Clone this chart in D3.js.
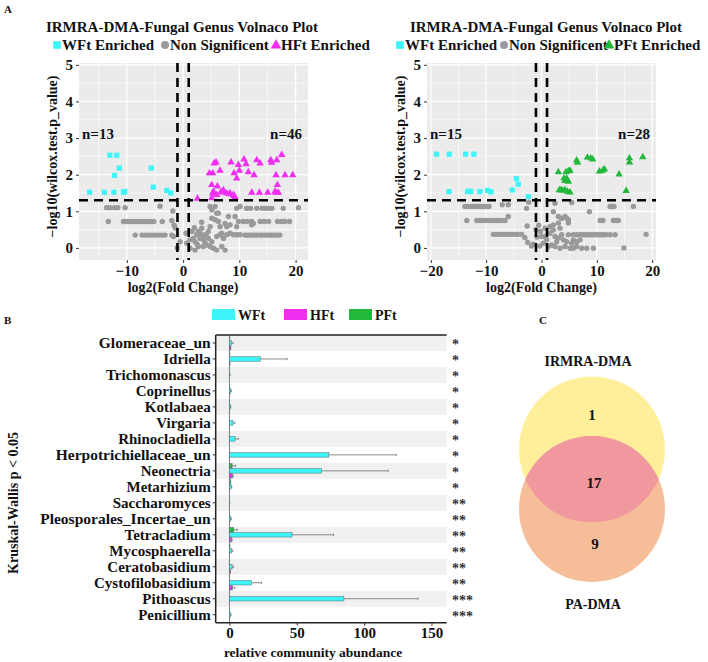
<!DOCTYPE html>
<html lang="en">
<head>
<meta charset="UTF-8" />
<title>Fungal genus volcano plots, abundance bars and Venn</title>
<style>
  body { margin: 0; background: #fff; }
  svg text { font-family: "Liberation Serif", "Times New Roman", serif; font-weight: bold; fill: #111; }
  .axis text { font-size: 15px; }
  .axis line { stroke: #333; }
  .axis path { display: none; }
</style>
</head>
<body>
<svg width="708" height="662"></svg>
<script src="https://d3js.org/d3.v7.min.js"></script>
<script>
// ---------- panel A data: [log2 fold change, -log10 p] ----------
const leftWFt = [[-13.0,2.53],[-11.8,2.53],[-11.35,2.18],[-12.2,1.98],[-5.65,2.18],[-5.3,1.66],[-16.6,1.52],
  [-14.0,1.52],[-12.3,1.52],[-10.6,1.52],[-10.35,1.54],[-2.9,1.57],[-2.2,1.50]];
const leftHFt = [[2.55,1.35],[4.68,2.04],[5.27,2.04],[5.51,2.31],[5.86,2.34],[6.57,2.11],[5.09,1.72],[6.1,1.68],
  [5.27,1.49],[5.98,1.45],[7.04,1.54],[7.16,1.58],[8.23,1.47],[8.35,1.49],[9.06,1.42],[9.24,1.38],[8.52,2.34],
  [9.83,2.27],[9.06,2.04],[9.53,1.90],[10.0,2.11],[10.83,2.42],[11.19,2.29],[11.6,2.07],[12.61,1.99],[13.09,2.40],
  [13.68,2.31],[15.57,2.40],[15.75,2.33],[16.64,2.40],[17.53,2.54],[16.52,1.99],[18.12,1.99],[19.48,1.99],
  [12.2,1.51],[13.56,1.51],[15.04,1.51],[16.34,1.54],[16.76,1.72],[16.93,1.51],[16.5,1.51],[5.39,1.54],
  [8.94,1.45],[6.69,1.52],[5.1,1.36],[7.75,1.49]];
const leftNS = [[-13.6,1.1],[-13.0,1.1],[-12.2,1.1],[-11.6,1.1],[-10.3,1.1],[-4.1,1.14],
  [-13.3,0.72],[-10.6,0.72],[-10.2,0.72],[-9.8,0.72],[-9.3,0.72],[-8.9,0.72],[-8.4,0.72],[-7.9,0.72],[-7.5,0.72],
  [-7.0,0.72],[-6.6,0.72],[-6.1,0.72],[-5.7,0.72],[-5.2,0.72],[-3.7,0.72],[-2.0,0.75],[-1.6,0.62],[-1.4,0.55],
  [-8.5,0.35],[-7.3,0.35],[-6.7,0.35],[-6.2,0.35],[-5.6,0.35],[-5.0,0.35],[-4.4,0.35],[-3.8,0.35],[-3.2,0.35],[-2.0,0.35],
  [-1.83,1.01],[-1.7,0.31],[-0.53,0.17],[0.65,0.13],[1.24,0.22],[1.83,0.26],[2.13,0.17],[2.43,0.36],[2.72,0.45],
  [3.02,0.40],[3.32,0.54],[3.02,0.26],[3.61,0.22],[3.91,0.13],[4.2,0.31],[4.5,0.45],[4.8,0.58],[5.1,0.81],[5.1,1.04],
  [4.8,1.13],[5.69,1.13],[5.98,0.95],[6.28,0.72],[6.57,0.58],[6.87,0.40],[7.17,0.26],[7.46,-0.06],[6.87,0.04],
  [5.98,-0.06],[5.39,-0.01],[4.8,0.04],[4.2,0.08],[3.61,0.04],[2.72,0.04],[2.13,-0.06],[1.24,-0.01],[3.32,0.31],
  [3.91,0.36],[4.5,0.26],[5.1,0.17],[5.98,0.31],[6.57,0.36],[7.76,0.36],[8.35,0.40],[8.94,0.36],[9.53,0.36],
  [10.12,0.36],[8.35,0.63],[9.83,0.72],[9.24,0.86],[9.53,1.08],[10.12,1.13],[7.46,0.67],[7.76,0.58],[6.28,0.95],
  [5.69,0.77],[8.05,0.86],[9.53,0.58],[11.31,1.08],[12.49,0.67],[13.08,1.08],[-1.06,0.0],[0.5,0.4],[2.0,0.55],
  [3.3,0.7],[2.5,0.1],[1.6,0.45],
  [11.3,1.08],[12.0,1.08],[14.0,1.08],[14.6,1.08],[15.2,1.08],[15.8,1.08],[17.8,1.08],[20.5,1.1],
  [10.7,0.72],[11.4,0.72],[12.2,0.72],[13.7,0.72],[14.4,0.72],[15.2,0.72],[16.8,0.72],[17.5,0.72],[18.1,0.72],
  [18.9,0.72],[12.2,0.63],
  [11.0,0.35],[11.5,0.35],[11.9,0.35],[12.3,0.35],[12.8,0.35],[13.2,0.35],[13.7,0.35],[14.1,0.35],[14.6,0.35],
  [15.1,0.35],[15.5,0.35],[15.9,0.35],[16.4,0.35],[16.8,0.35],[17.2,0.35]];

const rightWFt = [[-18.97,2.56],[-16.68,2.56],[-13.72,2.56],[-12.22,2.56],[-16.74,1.54],[-13.36,1.54],[-12.82,1.54],
  [-13.0,1.55],[-11.13,1.54],[-9.74,1.57],[-9.14,1.53],[-5.28,1.58],[-4.56,1.89],[-4.2,1.74],[-2.39,1.40]];
const rightPFt = [[3.05,2.07],[4.43,2.07],[4.86,2.10],[5.16,2.11],[4.07,1.90],[4.55,1.90],[4.86,1.81],[4.25,1.83],
  [3.23,1.58],[3.83,1.57],[4.25,1.58],[4.68,1.54],[5.16,1.52],[6.49,2.33],[6.36,2.39],[8.3,2.47],[8.9,2.45],
  [9.26,2.42],[10.47,2.09],[11.07,2.11],[11.37,2.15],[14.03,2.01],[15.3,1.56],[15.9,2.45],[15.9,2.34],
  [18.31,2.48],[3.53,1.58],[4.55,1.86]];
const rightNS = [[-13.85,1.13],[-13.36,1.13],[-12.89,1.13],[-12.4,1.13],[-11.9,1.13],[-11.43,1.13],[-10.95,1.13],
  [-10.46,1.13],[-9.98,1.13],[-9.5,1.13],[-7.1,1.18],[-6.0,1.18],[-2.7,1.08],[-2.3,1.25],
  [-13.5,0.75],[-11.7,0.75],[-11.2,0.75],[-10.7,0.75],[-10.2,0.75],[-9.7,0.75],[-9.2,0.75],[-8.7,0.75],[-8.2,0.75],
  [-7.7,0.75],[-7.2,0.75],[-6.6,0.75],[-6.0,0.86],[-2.6,0.6],
  [-8.7,0.37],[-8.2,0.37],[-7.7,0.37],[-7.2,0.37],[-6.7,0.37],[-6.2,0.37],[-5.7,0.37],[-5.2,0.37],[-4.7,0.37],
  [-4.3,0.37],[-3.6,0.37],[-3.0,0.28],[-2.5,0.15],[-1.8,0.05],
  [2.44,1.22],[5.46,1.24],[8.66,0.99],[12.4,1.13],[12.9,1.13],[13.1,1.13],[16.6,1.13],[10.6,0.75],[11.1,0.75],
  [13.0,0.75],[13.5,0.75],[13.9,0.75],[18.9,0.37],[14.9,0.0],
  [5.76,0.36],[6.36,0.36],[6.85,0.36],[7.33,0.36],[7.81,0.36],[8.3,0.36],[8.78,0.36],[9.26,0.36],[9.74,0.36],
  [10.23,0.36],[10.71,0.36],[11.19,0.36],[11.67,0.36],[12.4,0.36],[13.3,0.36],
  [2.14,0.99],[3.05,0.86],[3.65,0.81],[4.25,0.86],[4.55,0.81],[4.86,0.77],[4.86,0.68],[3.05,0.68],[3.35,0.54],
  [2.14,0.49],[1.54,0.40],[0.63,0.31],[0.93,0.22],[0.33,0.13],[1.24,0.04],[2.44,0.04],[3.35,-0.01],[4.25,0.04],
  [5.16,-0.01],[5.76,-0.01],[6.36,0.04],[7.27,-0.01],[8.18,-0.01],[9.38,-0.01],[3.05,0.27],[3.95,0.22],[4.86,0.36],
  [2.14,0.63],[1.54,0.58],[0.63,0.54],[5.76,0.22],[6.36,0.17],[6.97,0.22],[3.65,0.36],[2.74,0.17],[1.84,0.08],
  [4.55,0.17],[5.46,0.13],[2.44,0.31],[0.03,0.31],
  [-1.5,0.1],[-0.8,0.3],[-0.3,0.05],[-1.0,0.5],[-0.5,0.62],[-0.2,0.45]];

const yTicksA = [0, 1, 2, 3, 4, 5];

// ---------- panel B data ----------
const genera = ["Glomeraceae_un","Idriella","Trichomonascus","Coprinellus","Kotlabaea","Virgaria","Rhinocladiella",
  "Herpotrichiellaceae_un","Neonectria","Metarhizium","Saccharomyces","Pleosporales_Incertae_un","Tetracladium",
  "Mycosphaerella","Ceratobasidium","Cystofilobasidium","Pithoascus","Penicillium"];
const wftMean = [1.6, 23, 0.3, 1.0, 0.7, 2.6, 4.2, 73.8, 68.3, 1.2, 0.2, 1.0, 46.5, 1.7, 2.0, 16.2, 85, 0.8];
const wftSd   = [1.2, 19.8, 0.1, 0.5, 0.3, 1.5, 2.3, 50, 49.5, 0.5, 0.1, 0.4, 30.7, 0.8, 1.0, 7.5, 55, 0.4];
const hftMean = [0.8, 0.3, 0.1, 0.1, 0.1, 0.1, 0.1, 0.1, 2.2, 0.1, 0.1, 0.1, 1.5, 0.1, 0.5, 2.2, 0.1, 0.1];
const hftSd   = [0.3, 0.1, 0, 0, 0, 0, 0, 0, 0.6, 0, 0, 0, 0.5, 0, 0.2, 1.8, 0, 0];
const pftMean = [0.2, 0.2, 0.1, 0.1, 0.1, 0.1, 0.1, 0.1, 2.0, 0.7, 0.1, 0.1, 3.2, 0.3, 0.1, 0.1, 0.1, 0.1];
const pftSd   = [0.1, 0.1, 0, 0, 0, 0, 0, 0, 2.5, 0.3, 0, 0, 2.5, 0.1, 0, 0, 0, 0];
const signif  = ["*","*","*","*","*","*","*","*","*","*","**","**","**","**","**","**","***","***"];
const xTicksB = [0, 50, 100, 150];

// ---------- panel C data ----------
const vennSets = ["IRMRA-DMA", "PA-DMA"];
const vennCounts = { onlyA: 1, both: 17, onlyB: 9 };

const colors = { WFt: "#3DF4F8", HFt: "#F02EF0", PFt: "#23B83A", NS: "#9A9A9A" };

const svg = d3.select("svg");
svg.append("rect").attr("width", 708).attr("height", 662).attr("fill", "#fff");

// panel letters
svg.append("text").attr("x", 4).attr("y", 13).attr("font-size", 11).text("A");
svg.append("text").attr("x", 4).attr("y", 324).attr("font-size", 11).text("B");
svg.append("text").attr("x", 539).attr("y", 324).attr("font-size", 11).text("C");

function volcano(o) {
  const g = svg.append("g");
  const top = 63, bottom = 260;
  const x = d3.scaleLinear().domain(o.xDomain).range([o.left, o.right]);
  const y = d3.scaleLinear().domain([-0.33, 5.05]).range([bottom, top]);

  g.append("rect").attr("x", o.left).attr("y", top).attr("width", o.right - o.left)
    .attr("height", bottom - top).attr("fill", "#EBEBEB");

  const yMinor = [0.5, 1.5, 2.5, 3.5, 4.5];
  g.selectAll(".gxm").data(o.xMinor).join("line")
    .attr("x1", d => x(d)).attr("x2", d => x(d)).attr("y1", top).attr("y2", bottom)
    .attr("stroke", "#fff").attr("stroke-width", 0.6);
  g.selectAll(".gym").data(yMinor).join("line")
    .attr("x1", o.left).attr("x2", o.right).attr("y1", d => y(d)).attr("y2", d => y(d))
    .attr("stroke", "#fff").attr("stroke-width", 0.6);
  g.selectAll(".gx").data(o.xTicks).join("line")
    .attr("x1", d => x(d)).attr("x2", d => x(d)).attr("y1", top).attr("y2", bottom)
    .attr("stroke", "#fff").attr("stroke-width", 1.2);
  g.selectAll(".gy").data(yTicksA).join("line")
    .attr("x1", o.left).attr("x2", o.right).attr("y1", d => y(d)).attr("y2", d => y(d))
    .attr("stroke", "#fff").attr("stroke-width", 1.2);

  // points
  g.selectAll(".ns").data(o.ns).join("circle")
    .attr("cx", d => x(d[0])).attr("cy", d => y(d[1])).attr("r", 2.7).attr("fill", colors.NS);
  g.selectAll(".sq").data(o.wft).join("rect")
    .attr("x", d => x(d[0]) - 2.6).attr("y", d => y(d[1]) - 2.6).attr("width", 5.2).attr("height", 5.2)
    .attr("fill", colors.WFt);
  const tri = d3.symbol().type(d3.symbolTriangle).size(24);
  g.selectAll(".tri").data(o.up).join("path")
    .attr("d", tri).attr("transform", d => `translate(${x(d[0])},${y(d[1])})`)
    .attr("fill", o.upColor);

  // threshold lines
  [-1, 1].forEach(v => g.append("line")
    .attr("x1", x(v)).attr("x2", x(v)).attr("y1", top).attr("y2", bottom)
    .attr("stroke", "#000").attr("stroke-width", 2.6).attr("stroke-dasharray", "9,6"));
  g.append("line").attr("x1", o.left).attr("x2", o.right)
    .attr("y1", y(-Math.log10(0.05))).attr("y2", y(-Math.log10(0.05)))
    .attr("stroke", "#000").attr("stroke-width", 2.6).attr("stroke-dasharray", "9,6");

  // counts
  g.append("text").attr("x", o.left + 3).attr("y", 138.5).attr("font-size", 15).text("n=" + o.wft.length);
  g.append("text").attr("x", o.right - 6).attr("y", 138.5).attr("font-size", 15)
    .attr("text-anchor", "end").text("n=" + o.up.length);

  // axes
  g.append("g").attr("class", "axis").attr("transform", `translate(${o.left},0)`)
    .call(d3.axisLeft(y).tickValues(yTicksA).tickFormat(d3.format("d")).tickSize(3).tickPadding(3));
  g.append("g").attr("class", "axis").attr("transform", `translate(0,${bottom})`)
    .call(d3.axisBottom(x).tickValues(o.xTicks).tickSize(3).tickPadding(2));

  g.append("text").attr("transform", `translate(${o.left - 22},${(top + bottom) / 2 - 5}) rotate(-90)`)
    .attr("text-anchor", "middle").attr("font-size", 14).text("\u2212log10(wilcox.test.p_value)");
  g.append("text").attr("x", x(0)).attr("y", 292).attr("text-anchor", "middle")
    .attr("font-size", 14).text("log2(Fold Change)");

  // title and legend
  g.append("text").attr("x", o.titleX).attr("y", 32).attr("text-anchor", "middle")
    .attr("font-size", 15).text("IRMRA-DMA-Fungal Genus Volnaco Plot");
  const lg = g.append("g").attr("transform", `translate(0,45)`);
  lg.append("rect").attr("x", o.leg[0] - 3.8).attr("y", -3.8).attr("width", 7.6).attr("height", 7.6)
    .attr("fill", colors.WFt);
  lg.append("text").attr("x", o.leg[0] + 5).attr("y", 5).attr("font-size", 15).text("WFt Enriched");
  lg.append("circle").attr("cx", o.leg[1]).attr("cy", 0).attr("r", 4).attr("fill", colors.NS);
  lg.append("text").attr("x", o.leg[1] + 5).attr("y", 5).attr("font-size", 15).text("Non Significent");
  lg.append("path").attr("d", d3.symbol().type(d3.symbolTriangle).size(50))
    .attr("transform", `translate(${o.leg[2]},0.5)`).attr("fill", o.upColor);
  lg.append("text").attr("x", o.leg[2] + 5).attr("y", 5).attr("font-size", 15).text(o.upLabel);
}

volcano({
  left: 79, right: 308, xDomain: [-18.5, 22.2],
  xTicks: [-10, 0, 10, 20], xMinor: [-15, -5, 5, 15],
  ns: leftNS, wft: leftWFt, up: leftHFt, upColor: colors.HFt, upLabel: "HFt Enriched",
  titleX: 182, leg: [57, 165, 276]
});
volcano({
  left: 427, right: 656, xDomain: [-20.7, 20.7],
  xTicks: [-20, -10, 0, 10, 20], xMinor: [-15, -5, 5, 15],
  ns: rightNS, wft: rightWFt, up: rightPFt, upColor: colors.PFt, upLabel: "PFt Enriched",
  titleX: 546, leg: [400, 504, 609]
});

// ---------- panel B ----------
(function () {
  const g = svg.append("g");
  const left = 215.7, right = 446.7, top = 335, bottom = 622.7;
  const x = d3.scaleLinear().domain([-10.2, 161.3]).range([left, right]);
  const y = d3.scaleBand().domain(genera).range([top, bottom]);
  const groups = ["PFt", "WFt", "HFt"];
  const sub = d3.scaleBand().domain(groups).range([0, y.bandwidth()]).paddingInner(0.1).paddingOuter(0.15);

  g.selectAll(".stripe").data(genera.filter((d, i) => i % 2 === 0)).join("rect")
    .attr("x", left).attr("y", d => y(d)).attr("width", right - left).attr("height", y.bandwidth())
    .attr("fill", "#F0F0F0");

  g.append("line").attr("x1", x(0)).attr("x2", x(0)).attr("y1", top).attr("y2", bottom)
    .attr("stroke", "#9a9a9a").attr("stroke-width", 1);

  const rows = [];
  genera.forEach((name, i) => {
    rows.push({ name, grp: "PFt", m: pftMean[i], sd: pftSd[i] });
    rows.push({ name, grp: "WFt", m: wftMean[i], sd: wftSd[i] });
    rows.push({ name, grp: "HFt", m: hftMean[i], sd: hftSd[i] });
  });
  const ey = d => y(d.name) + sub(d.grp) + sub.bandwidth() / 2;
  g.selectAll(".err").data(rows.filter(d => d.sd > 0)).join("line")
    .attr("x1", d => x(d.m)).attr("x2", d => x(d.m + d.sd)).attr("y1", ey).attr("y2", ey)
    .attr("stroke", "#8a8a8a").attr("stroke-width", 1);
  g.selectAll(".cap").data(rows.filter(d => d.sd > 0)).join("line")
    .attr("x1", d => x(d.m + d.sd)).attr("x2", d => x(d.m + d.sd))
    .attr("y1", d => ey(d) - 1.2).attr("y2", d => ey(d) + 1.2)
    .attr("stroke", "#8a8a8a").attr("stroke-width", 1);
  g.selectAll(".bar").data(rows).join("rect")
    .attr("x", x(0)).attr("y", d => y(d.name) + sub(d.grp))
    .attr("width", d => x(d.m) - x(0)).attr("height", sub.bandwidth())
    .attr("fill", d => colors[d.grp]).attr("stroke", "#4a6a6a").attr("stroke-width", 0.5);

  // frame
  g.append("line").attr("x1", left).attr("x2", right).attr("y1", top).attr("y2", top)
    .attr("stroke", "#222").attr("stroke-width", 1.5);
  g.append("line").attr("x1", left).attr("x2", right).attr("y1", bottom).attr("y2", bottom)
    .attr("stroke", "#222").attr("stroke-width", 1.5);
  g.append("line").attr("x1", left).attr("x2", left).attr("y1", top).attr("y2", bottom)
    .attr("stroke", "#222").attr("stroke-width", 1.5);

  const ya = g.append("g").attr("class", "axis").attr("transform", `translate(${left},0)`)
    .call(d3.axisLeft(y).tickSize(3).tickPadding(2));
  ya.selectAll("text").style("font-size", d => d.endsWith("_un") ? "15.5px" : "15px");
  g.append("g").attr("class", "axis").attr("transform", `translate(0,${bottom})`)
    .call(d3.axisBottom(x).tickValues(xTicksB).tickSize(3).tickPadding(2));

  g.selectAll(".star").data(genera).join("text")
    .attr("x", 452).attr("y", d => y(d) + y.bandwidth() / 2 + 6.5)
    .attr("font-size", 14).style("fill", "#333")
    .text((d, i) => signif[i]);

  g.append("text").attr("transform", `translate(18,503) rotate(-90)`).attr("text-anchor", "middle")
    .attr("font-size", 14).text("Kruskal-Wallis p < 0.05");
  g.append("text").attr("x", 313).attr("y", 657).attr("text-anchor", "middle")
    .attr("font-size", 13.5).text("relative community abundance");

  // legend
  const legX = [212, 284, 349];
  ["WFt", "HFt", "PFt"].forEach((k, i) => {
    g.append("rect").attr("x", legX[i]).attr("y", 309).attr("width", 23).attr("height", 11)
      .attr("fill", colors[k]);
    g.append("text").attr("x", legX[i] + 26).attr("y", 320).attr("font-size", 14).text(k);
  });
})();

// ---------- panel C ----------
(function () {
  const g = svg.append("g");
  const r = 73, cx = 592, cyA = 449.5, cyB = 509;
  g.append("defs").append("clipPath").attr("id", "clipB")
    .append("circle").attr("cx", cx).attr("cy", cyB).attr("r", r);
  g.append("circle").attr("cx", cx).attr("cy", cyA).attr("r", r).attr("fill", "#FFEF9B");
  g.append("circle").attr("cx", cx).attr("cy", cyB).attr("r", r).attr("fill", "#F6BE98");
  g.append("circle").attr("cx", cx).attr("cy", cyA).attr("r", r).attr("fill", "#F1979E")
    .attr("clip-path", "url(#clipB)");
  g.append("text").attr("x", 588).attr("y", 366).attr("text-anchor", "middle").attr("font-size", 14)
    .text(vennSets[0]);
  g.append("text").attr("x", 593).attr("y", 609).attr("text-anchor", "middle").attr("font-size", 14)
    .text(vennSets[1]);
  g.append("text").attr("x", 592).attr("y", 420).attr("text-anchor", "middle").attr("font-size", 15)
    .text(vennCounts.onlyA);
  g.append("text").attr("x", 594).attr("y", 488).attr("text-anchor", "middle").attr("font-size", 15)
    .text(vennCounts.both);
  g.append("text").attr("x", 595).attr("y", 548.5).attr("text-anchor", "middle").attr("font-size", 15)
    .text(vennCounts.onlyB);
})();
</script>
</body>
</html>
